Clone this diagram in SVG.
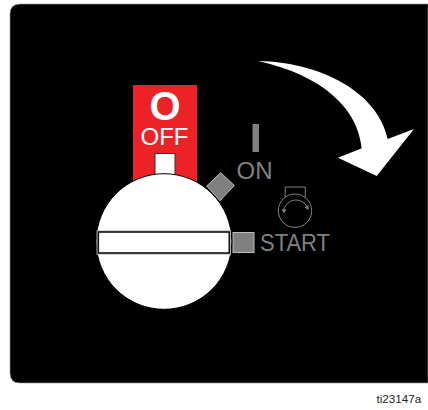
<svg xmlns="http://www.w3.org/2000/svg" width="428" height="410" viewBox="0 0 428 410">
<style>
.g{fill:#808080}
.gs{fill:#808080;stroke:#bdbdbd;stroke-width:1}
.t{font-family:"Liberation Sans",Arial,sans-serif}
.ic{fill:none;stroke:#808080;stroke-width:1}
</style>
<rect width="428" height="410" fill="#fff"/>
<g id="panel"><path d="M428 4H20Q10 4 10 14V373Q10 383 20 383H428Z" fill="#000" stroke="#999" stroke-width="0.6"/></g>
<g id="off">
<rect x="133" y="85" width="64" height="100" fill="#ed2227"/>
<text class="t" x="165" y="119.500" text-anchor="middle" font-size="40" font-weight="bold" fill="#fff">O</text>
<text class="t" x="164.500" y="145" text-anchor="middle" font-size="24" fill="#fff">OFF</text>
<rect x="155" y="153.500" width="20" height="24" fill="#fff" stroke="#333" stroke-width="1"/>
</g>
<g id="on">
<rect x="252.500" y="124" width="6.500" height="28" class="g"/>
<text class="t" x="254.500" y="179" text-anchor="middle" font-size="24" fill="#808080">ON</text>
<path d="M220.700 172.700L234.300 185.500L220 200.700L206.700 186Z" class="gs"/>
</g>
<g id="start">
<rect x="233" y="232.500" width="21" height="20" class="gs"/>
<text class="t" x="260" y="251" font-size="24" fill="#808080" textLength="70" lengthAdjust="spacingAndGlyphs">START</text>
<g id="start-icon">
<circle cx="295" cy="210.700" r="16.700" class="ic"/>
<path d="M285.200 198V187H305.300V198" class="ic"/>
<path d="M283.500 212A12.500 12.500 0 0 1 308 209" class="ic"/>
<path d="M281.500 209L284 213.500L286.500 209.500ZM304.500 207.500L308.500 210L308.500 205Z" class="g"/>
</g>
</g>
<g id="knob">
<circle cx="164" cy="241.500" r="67.800" fill="#fff" stroke="#000" stroke-width="1"/>
<rect x="98.300" y="232" width="131" height="21" fill="none" stroke="#c4c4c4" stroke-width="3.400"/>
<rect x="98.300" y="232" width="131" height="21" fill="#fff" stroke="#111" stroke-width="1.600"/>
</g>
<g id="connectors">
<path d="M258 61C320 62 378 92 387.700 139L414 129L376.700 176L338 157.700L361.700 148.300C358 110 325 76 258 61Z" fill="#fff"/>
</g>
<text class="t" x="376.500" y="402.500" font-size="11.700" fill="#222">ti23147a</text>
</svg>
